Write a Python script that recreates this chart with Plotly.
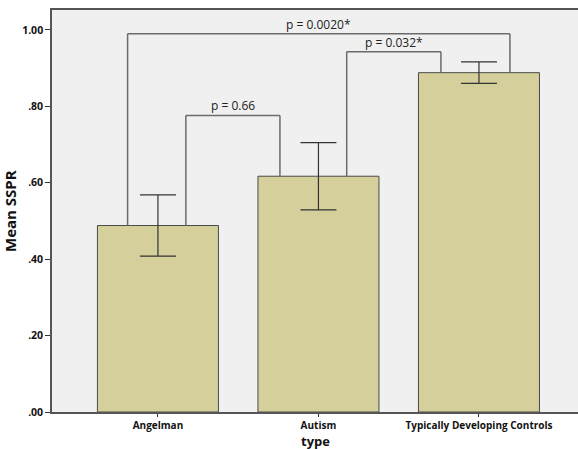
import plotly.graph_objects as go

categories = ["Angelman", "Autism", "Typically Developing Controls"]
means = [0.488, 0.617, 0.888]
errors = [0.080, 0.088, 0.028]
y_tickvals = [0, 0.2, 0.4, 0.6, 0.8, 1.0]
y_ticktext = [".00", ".20", ".40", ".60", ".80", "1.00"]

# comparisons: (left index, right index, bracket height, label)
comparisons = [
    (0, 1, 0.776, "p = 0.66"),
    (1, 2, 0.943, "p = 0.032*"),
    (0, 2, 0.990, "p = 0.0020*"),
]
leg_offsets = {  # (left-leg offset, right-leg offset) relative to bar center
    (0, 1): (0.174, -0.24),
    (1, 2): (0.176, -0.237),
    (0, 2): (-0.189, 0.193),
}

xs = list(range(len(categories)))

fig = go.Figure()
fig.add_trace(go.Bar(
    x=xs, y=means, width=0.754,
    marker=dict(color="#D4CF9B", line=dict(color="#4a4a4a", width=1)),
    error_y=dict(type="data", array=errors, visible=True, color="#333333",
                 thickness=1.2, width=18),
    hoverinfo="skip",
))

line_style = dict(color="#6b6b6b", width=1.5)
for (a, b, h, label) in comparisons:
    oa, ob = leg_offsets[(a, b)]
    xa, xb = xs[a] + oa, xs[b] + ob
    fig.add_shape(type="line", x0=xa, x1=xa, y0=means[a], y1=h, xref="x", yref="y", line=line_style)
    fig.add_shape(type="line", x0=xb, x1=xb, y0=means[b], y1=h, xref="x", yref="y", line=line_style)
    fig.add_shape(type="line", x0=xa, x1=xb, y0=h, y1=h, xref="x", yref="y", line=line_style)
    fig.add_annotation(x=(xa + xb) / 2, y=h, text=label, showarrow=False,
                       yanchor="bottom", yshift=-1,
                       font=dict(family="Open Sans", size=12, color="#222222"))

# axis titles
fig.add_annotation(x=0.5, y=0, xref="paper", yref="paper", text="<b>type</b>",
                   showarrow=False, yanchor="top", yshift=-19, borderpad=0,
                   font=dict(family="Open Sans", size=13, color="#111111"))
fig.add_annotation(x=0, y=0.5, xref="paper", yref="paper", text="<b>Mean SSPR</b>",
                   showarrow=False, textangle=-90, xanchor="right", xshift=-30,
                   font=dict(family="Open Sans", size=15, color="#111111"))

fig.update_layout(
    width=578, height=449,
    margin=dict(l=52, r=0, t=10, b=37, autoexpand=False),
    paper_bgcolor="white",
    plot_bgcolor="#F0F0F0",
    showlegend=False,
)
fig.update_xaxes(
    range=[-0.66, 2.617], automargin=False,
    tickvals=xs, ticktext=categories,
    tickfont=dict(family="Open Sans", size=10, color="#111111", weight="bold"),
    ticks="outside", ticklen=3, tickcolor="#333333",
    showline=True, linecolor="#555555", linewidth=1.5, mirror=True,
    showgrid=False, zeroline=False,
)
fig.update_yaxes(
    range=[0, 1.052], automargin=False,
    tickvals=y_tickvals, ticktext=y_ticktext,
    tickfont=dict(family="Open Sans", size=10.5, color="#111111", weight="bold"),
    ticks="outside", ticklen=5, tickcolor="#333333",
    showline=True, linecolor="#555555", linewidth=1.5,
    showgrid=False, zeroline=False,
)

fig.write_html(
    "out.html",
    config={"displayModeBar": False},
    post_script="document.body.style.margin='0';document.body.style.overflow='hidden';",
)
